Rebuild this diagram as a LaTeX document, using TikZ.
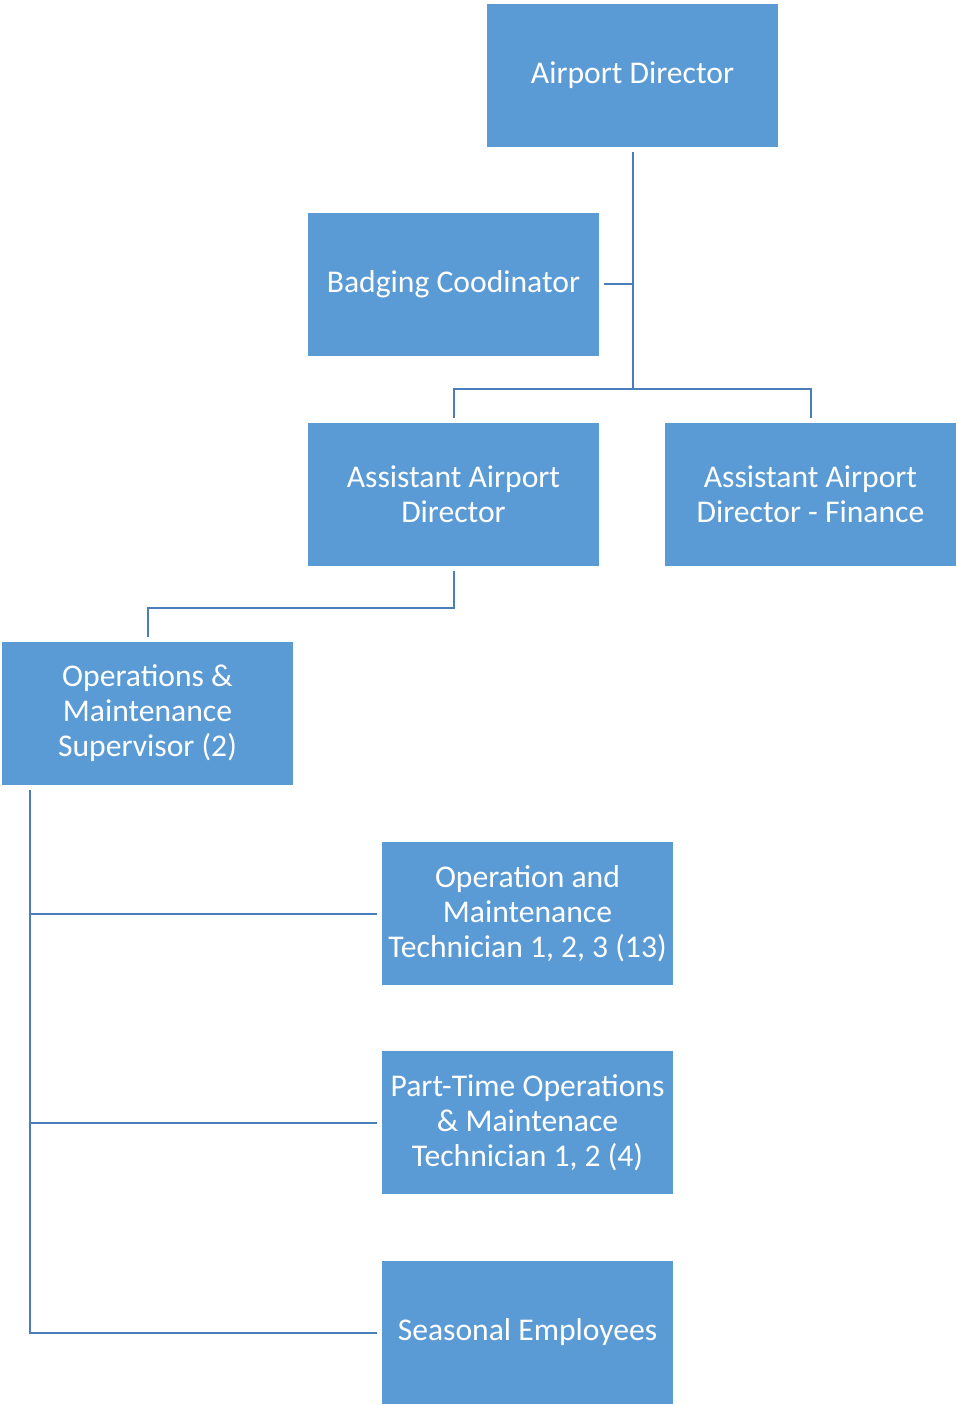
\documentclass[tikz,border=0pt]{standalone}
\usepackage{fontspec}
\setmainfont{Carlito}
\definecolor{boxblue}{HTML}{5B9BD5}
\definecolor{lineblue}{HTML}{4A7EBB}
\tikzset{
  post/.style={fill=boxblue, text=white, align=center, inner sep=0pt, outer sep=0.1cm,
    minimum width=5.82cm, minimum height=2.86cm,
    font=\fontsize{18}{19.9}\selectfont},
  link/.style={draw=lineblue, line width=0.04cm}
}
\begin{document}
\begin{tikzpicture}[x=0.02cm, y=-0.02cm]
  \useasboundingbox (0,0) rectangle (956,1405);
  % boxes
  \node [post] (dir)   at (632.5,75.5)   {Airport Director};
  \node [post] (badge) at (453.5,284.5)  {Badging Coodinator};
  \node [post] (ad)    at (453.5,494.5)  {Assistant Airport\\Director};
  \node [post] (fin)   at (810.5,494.5)  {Assistant Airport\\Director - Finance};
  \node [post] (sup)   at (147.5,713.5)  {Operations \&\\Maintenance\\Supervisor (2)};
  \node [post] (tech)  at (527.5,913.5)  {Operation and\\Maintenance\\Technician 1, 2, 3 (13)};
  \node [post] (part)  at (527.5,1122.5) {Part-Time Operations\\\& Maintenace\\Technician 1, 2 (4)};
  \node [post] (seas)  at (527.5,1332.5) {Seasonal Employees};
  % connectors
  \coordinate (split) at (632.5,389);
  \coordinate (bend) at (453.5,608);
  \coordinate (rail) at (30,1332.5);
  \draw [link] (dir.south) -- (split);
  \draw [link] (badge.east) -- (badge.east -| split);
  \draw [link] (ad.north) |- (split) -| (fin.north);
  \draw [link] (ad.south) -- (bend) -| (sup.north);
  \draw [link] (sup.south -| rail) -- (rail) -- (seas.west);
  \draw [link] (tech.west -| rail) -- (tech.west);
  \draw [link] (part.west -| rail) -- (part.west);
\end{tikzpicture}
\end{document}
